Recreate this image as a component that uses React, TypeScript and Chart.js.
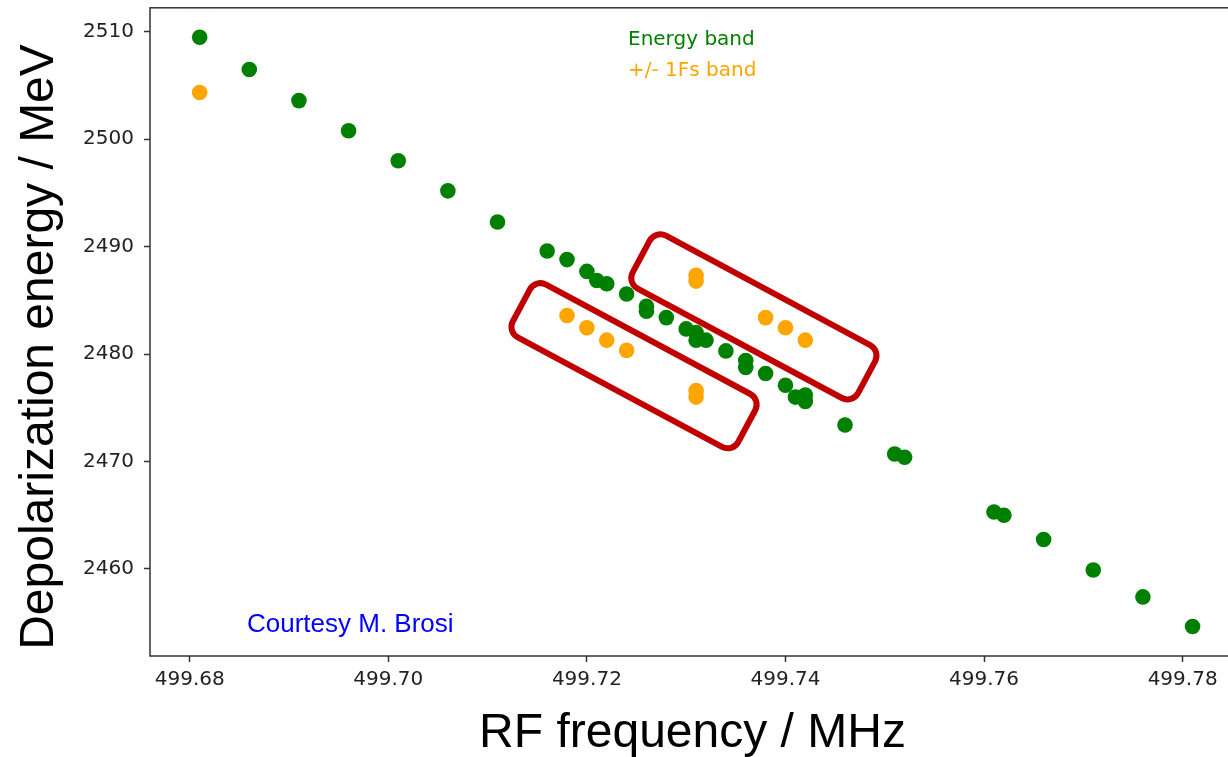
import React, { useEffect, useRef } from "react";
import { Chart, registerables } from "chart.js";

Chart.register(...registerables);

// ---- data ----
const ENERGY_BAND_FREQ = [
  499.681, 499.686, 499.691, 499.696, 499.701, 499.706, 499.711, 499.716,
  499.718, 499.72, 499.721, 499.722, 499.724, 499.726, 499.726, 499.728,
  499.73, 499.731, 499.731, 499.732, 499.734, 499.736, 499.736, 499.738,
  499.74, 499.741, 499.742, 499.742, 499.746, 499.751, 499.752, 499.761,
  499.762, 499.766, 499.771, 499.776, 499.781,
];
const ENERGY_BAND_E = [
  2509.5, 2506.5, 2503.6, 2500.8, 2498.0, 2495.2, 2492.3, 2489.6,
  2488.8, 2487.7, 2486.85, 2486.55, 2485.6, 2484.45, 2484.0, 2483.4,
  2482.35, 2482.0, 2481.3, 2481.3, 2480.3, 2479.4, 2478.75, 2478.2,
  2477.1, 2476.0, 2476.2, 2475.6, 2473.4, 2470.7, 2470.4, 2465.3,
  2465.0, 2462.75, 2459.9, 2457.4, 2454.65,
];
const FS_BAND_FREQ = [
  499.681, 499.718, 499.72, 499.722, 499.724, 499.731, 499.731, 499.731,
  499.731, 499.738, 499.74, 499.742,
];
const FS_BAND_E = [
  2504.35, 2483.6, 2482.45, 2481.3, 2480.35, 2487.35, 2486.8, 2476.6,
  2476.0, 2483.4, 2482.45, 2481.3,
];

const X_TICKS = [499.68, 499.7, 499.72, 499.74, 499.76, 499.78];
const Y_TICKS = [2460, 2470, 2480, 2490, 2500, 2510];
const X_RANGE = [499.676, 499.786];
const Y_RANGE = [2451.9, 2512.24];

// highlight boxes: centre-line ends (frequency, energy)
const BOX_START = [
  [499.7134, 2484.54],
  [499.72547, 2489.09],
];
const BOX_END = [
  [499.7361, 2473.3],
  [499.74817, 2477.85],
];

const LEGEND_LABELS = ["Energy band", "+/- 1Fs band"];
const CREDIT = "Courtesy M. Brosi";
const X_TITLE = "RF frequency / MHz";
const Y_TITLE = "Depolarization energy / MeV";

const GREEN = "#008000";
const ORANGE = "#FFA500";
const BOX_COLOR = "#C00000";
const BOX_HALF_WIDTH = 30;
const BOX_RADIUS = 12;

const toPoints = (xs: number[], ys: number[]) => xs.map((x, i) => ({ x, y: ys[i] }));

function roundedPoly(ctx: CanvasRenderingContext2D, pts: { x: number; y: number }[], r: number) {
  const n = pts.length;
  const sx = (pts[n - 1].x + pts[0].x) / 2;
  const sy = (pts[n - 1].y + pts[0].y) / 2;
  ctx.beginPath();
  ctx.moveTo(sx, sy);
  for (let i = 0; i < n; i++) {
    const p = pts[i];
    const q = pts[(i + 1) % n];
    ctx.arcTo(p.x, p.y, q.x, q.y, r);
  }
  ctx.closePath();
}

const decorPlugin = {
  id: "decor",
  afterDatasetsDraw(chart: any) {
    const { ctx, scales } = chart;
    const xs = scales.x;
    const ys = scales.y;
    ctx.save();
    ctx.strokeStyle = BOX_COLOR;
    ctx.lineWidth = 6;
    ctx.lineJoin = "round";
    for (let i = 0; i < BOX_START.length; i++) {
      const ax = xs.getPixelForValue(BOX_START[i][0]);
      const ay = ys.getPixelForValue(BOX_START[i][1]);
      const bx = xs.getPixelForValue(BOX_END[i][0]);
      const by = ys.getPixelForValue(BOX_END[i][1]);
      const len = Math.hypot(bx - ax, by - ay);
      const dx = (bx - ax) / len;
      const dy = (by - ay) / len;
      const nx = -dy;
      const ny = dx;
      const hw = BOX_HALF_WIDTH;
      const pts = [
        { x: ax + nx * hw, y: ay + ny * hw },
        { x: bx + nx * hw, y: by + ny * hw },
        { x: bx - nx * hw, y: by - ny * hw },
        { x: ax - nx * hw, y: ay - ny * hw },
      ];
      roundedPoly(ctx, pts, BOX_RADIUS);
      ctx.stroke();
    }
    ctx.restore();
  },
  afterDraw(chart: any) {
    const { ctx, chartArea } = chart;
    ctx.save();
    // frame
    ctx.strokeStyle = "#333";
    ctx.lineWidth = 1.5;
    ctx.strokeRect(chartArea.left, chartArea.top, chartArea.right - chartArea.left, chartArea.bottom - chartArea.top);

    // legend-like labels
    ctx.textBaseline = "alphabetic";
    ctx.textAlign = "left";
    ctx.font = "20px 'DejaVu Sans'";
    ctx.fillStyle = GREEN;
    ctx.fillText(LEGEND_LABELS[0], chartArea.left + 478, chartArea.top + 37);
    ctx.fillStyle = ORANGE;
    ctx.fillText(LEGEND_LABELS[1], chartArea.left + 478, chartArea.top + 68.5);

    // credit
    ctx.font = "26px 'Liberation Sans', Arial, sans-serif";
    ctx.fillStyle = "#0000FF";
    ctx.fillText(CREDIT, chartArea.left + 97, chartArea.bottom - 24);

    // axis titles
    ctx.fillStyle = "#000";
    ctx.font = "48px 'Liberation Sans', Arial, sans-serif";
    ctx.textAlign = "center";
    ctx.fillText(X_TITLE, 692.5, 747);
    ctx.translate(53, 347);
    ctx.rotate(-Math.PI / 2);
    ctx.fillText(Y_TITLE, 0, 0);
    ctx.restore();
  },
};

export default function App() {
  const ref = useRef<HTMLCanvasElement | null>(null);
  useEffect(() => {
    if (!ref.current) return;
    const chart = new Chart(ref.current, {
      type: "scatter",
      data: {
        datasets: [
          {
            label: LEGEND_LABELS[0],
            data: toPoints(ENERGY_BAND_FREQ, ENERGY_BAND_E),
            backgroundColor: GREEN,
            borderWidth: 0,
            pointRadius: 7.8,
            pointHoverRadius: 7.8,
          },
          {
            label: LEGEND_LABELS[1],
            data: toPoints(FS_BAND_FREQ, FS_BAND_E),
            backgroundColor: ORANGE,
            borderWidth: 0,
            pointRadius: 7.8,
            pointHoverRadius: 7.8,
          },
        ],
      },
      options: {
        responsive: false,
        animation: false,
        devicePixelRatio: 1,
        layout: { padding: { left: 0, top: 5, right: 7, bottom: 0 } },
        plugins: { legend: { display: false }, tooltip: { enabled: false } },
        events: [],
        scales: {
          x: {
            type: "linear",
            position: "bottom",
            min: X_RANGE[0],
            max: X_RANGE[1],
            afterBuildTicks: (s: any) => {
              s.ticks = X_TICKS.map((v) => ({ value: v }));
            },
            afterFit: (s: any) => {
              s.height = 101;
              s.paddingLeft = 0;
              s.paddingRight = 0;
              s.paddingTop = 0;
              s.paddingBottom = 0;
            },
            grid: {
              drawOnChartArea: false,
              drawTicks: true,
              tickLength: 6,
              tickWidth: 1.5,
              tickColor: "#333",
            },
            border: { display: false },
            ticks: {
              autoSkip: false,
              maxRotation: 0,
              padding: 6,
              color: "#222",
              font: { family: "'DejaVu Sans'", size: 20 },
              callback: (v: any) => Number(v).toFixed(2),
            },
          },
          y: {
            type: "linear",
            position: "left",
            min: Y_RANGE[0],
            max: Y_RANGE[1],
            afterBuildTicks: (s: any) => {
              s.ticks = Y_TICKS.map((v) => ({ value: v }));
            },
            afterFit: (s: any) => {
              s.width = 150;
              s.paddingLeft = 0;
              s.paddingRight = 0;
              s.paddingTop = 0;
              s.paddingBottom = 0;
            },
            grid: {
              drawOnChartArea: false,
              drawTicks: true,
              tickLength: 6,
              tickWidth: 1.5,
              tickColor: "#333",
            },
            border: { display: false },
            ticks: {
              autoSkip: false,
              padding: 10,
              color: "#222",
              font: { family: "'DejaVu Sans'", size: 20 },
              callback: (v: any) => String(Math.round(Number(v))),
            },
          },
        },
      },
      plugins: [decorPlugin],
    });
    return () => chart.destroy();
  }, []);

  return (
    <div
      style={{
        position: "absolute",
        left: 0,
        top: 0,
        width: 1228,
        height: 757,
        overflow: "hidden",
        background: "#fff",
      }}
    >
      <canvas ref={ref} width={1250} height={757} style={{ display: "block" }} />
    </div>
  );
}
